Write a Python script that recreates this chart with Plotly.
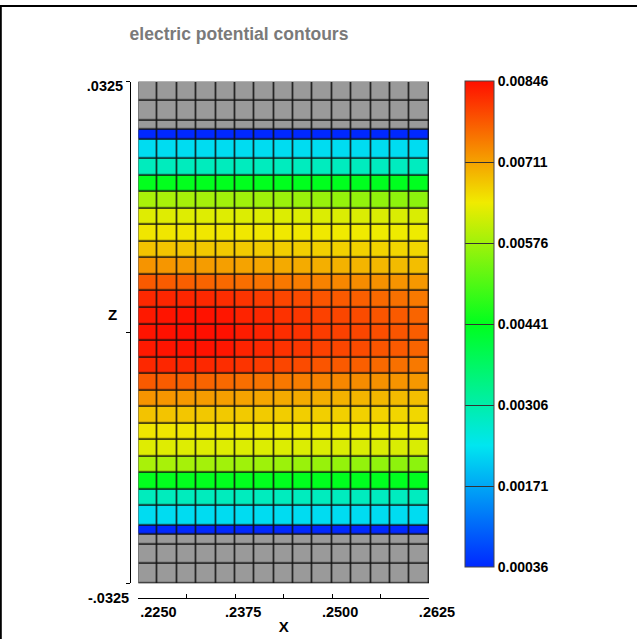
import plotly.graph_objects as go

# ---------------- data ----------------
# cell edges of the mesh (x: 15 columns, z: 31 rows)
X_EDGES = [0.2250, 0.2275, 0.2300, 0.2325, 0.2350, 0.2375, 0.2400, 0.2425,
           0.2450, 0.2475, 0.2500, 0.2525, 0.2550, 0.2575, 0.2600, 0.2625]
Z_EDGES = [-0.0325, -0.0300, -0.0275, -0.02625, -0.0250, -0.0225,
           -0.02036, -0.01821, -0.01607, -0.01393, -0.01179, -0.00964,
           -0.00750, -0.00536, -0.00321, -0.00107, 0.00107, 0.00321,
           0.00536, 0.00750, 0.00964, 0.01179, 0.01393, 0.01607, 0.01821,
           0.02036, 0.0225, 0.0250, 0.02625, 0.0275, 0.0300, 0.0325]

# potential per row (15 columns, left -> right)
ROW_BLUE = [0.00036] * 15
ROW_CYAN = [0.00228, 0.00228, 0.00228, 0.00228, 0.00228, 0.00228, 0.00228, 0.00228,
            0.00228, 0.00228, 0.00228, 0.00228, 0.00228, 0.00228, 0.00228]
ROW_M1 = [0.00288, 0.00288, 0.00288, 0.00288, 0.00288, 0.00287, 0.00287, 0.00287,
          0.00287, 0.00287, 0.00287, 0.00287, 0.00286, 0.00286, 0.00286]
ROW_M2 = [0.00443, 0.00443, 0.00443, 0.00442, 0.00442, 0.00442, 0.00442, 0.00441,
          0.00441, 0.00441, 0.00441, 0.00440, 0.00440, 0.00440, 0.00440]
ROW_M3 = [0.00584, 0.00583, 0.00581, 0.00579, 0.00577, 0.00575, 0.00574, 0.00572,
          0.00570, 0.00568, 0.00566, 0.00565, 0.00563, 0.00561, 0.00559]
ROW_M4 = [0.00629, 0.00629, 0.00628, 0.00628, 0.00628, 0.00627, 0.00627, 0.00627,
          0.00626, 0.00626, 0.00626, 0.00625, 0.00625, 0.00624, 0.00624]
ROW_M5 = [0.00648, 0.00648, 0.00647, 0.00647, 0.00647, 0.00646, 0.00646, 0.00645,
          0.00645, 0.00645, 0.00644, 0.00644, 0.00643, 0.00643, 0.00642]
ROW_M6 = [0.00680, 0.00679, 0.00678, 0.00676, 0.00675, 0.00674, 0.00673, 0.00671,
          0.00670, 0.00669, 0.00668, 0.00667, 0.00666, 0.00664, 0.00662]
ROW_M7 = [0.00724, 0.00722, 0.00719, 0.00716, 0.00713, 0.00710, 0.00707, 0.00703,
          0.00702, 0.00699, 0.00696, 0.00693, 0.00690, 0.00688, 0.00685]
ROW_M8 = [0.00777, 0.00775, 0.00772, 0.00768, 0.00763, 0.00759, 0.00754, 0.00749,
          0.00745, 0.00740, 0.00736, 0.00731, 0.00726, 0.00724, 0.00720]
ROW_M9 = [0.00823, 0.00825, 0.00825, 0.00823, 0.00818, 0.00812, 0.00805, 0.00795,
          0.00791, 0.00782, 0.00777, 0.00772, 0.00763, 0.00757, 0.00748]
ROW_M10 = [0.00837, 0.00841, 0.00843, 0.00843, 0.00840, 0.00828, 0.00823, 0.00814,
           0.00809, 0.00800, 0.00795, 0.00791, 0.00782, 0.00777, 0.00768]
ROW_M11 = [0.00841, 0.00844, 0.00846, 0.00846, 0.00844, 0.00834, 0.00828, 0.00818,
           0.00814, 0.00805, 0.00800, 0.00795, 0.00788, 0.00782, 0.00774]
ROW_GRAY = [None] * 15  # other material: no potential

# rows from bottom (z = -0.0325) to top (z = 0.0325)
ROW_ORDER = [ROW_GRAY, ROW_GRAY, ROW_GRAY, ROW_BLUE, ROW_CYAN,
             ROW_M1, ROW_M2, ROW_M3, ROW_M4, ROW_M5, ROW_M6, ROW_M7, ROW_M8,
             ROW_M9, ROW_M10, ROW_M11, ROW_M10, ROW_M9, ROW_M8, ROW_M7, ROW_M6,
             ROW_M5, ROW_M4, ROW_M3, ROW_M2, ROW_M1,
             ROW_CYAN, ROW_BLUE, ROW_GRAY, ROW_GRAY, ROW_GRAY]

V_MIN, V_MAX = 0.00036, 0.00846
CB_TICKS = [0.00036, 0.00171, 0.00306, 0.00441, 0.00576, 0.00711, 0.00846]
CB_LABELS = ["0.00036", "0.00171", "0.00306", "0.00441", "0.00576", "0.00711", "0.00846"]

X_TICKS = [0.2250, 0.2375, 0.2500, 0.2625]
X_LABELS = ["\u00a0\u00a0\u00a0\u00a0\u00a0\u00a0.2250", ".2375", ".2500", ".2625"]
X_MINOR = 0.00625
Z_TICKS = [-0.0325, 0.0, 0.0325]
Z_LABELS = ["", "", ".0325"]

TITLE = "electric potential contours"

# ---------------- figure ----------------
W, H = 637, 639
FONT = "Liberation Sans, Arial, Helvetica, sans-serif"

z_data = ROW_ORDER
z_mat = [[1 if v is None else None for v in row] for row in ROW_ORDER]

hot = [[0.0, "rgb(0,40,255)"], [0.25, "rgb(0,230,240)"], [0.5, "rgb(0,255,30)"],
       [0.75, "rgb(240,235,0)"], [1.0, "rgb(255,15,0)"]]

GAP = 1.5

fig = go.Figure()
fig.add_trace(go.Heatmap(
    x=X_EDGES, y=Z_EDGES, z=z_mat, zmin=0, zmax=1,
    colorscale=[[0, "#9a9a9a"], [1, "#9a9a9a"]], showscale=False,
    xgap=GAP, ygap=GAP, hoverinfo="skip"))
fig.add_trace(go.Heatmap(
    x=X_EDGES, y=Z_EDGES, z=z_data, zmin=V_MIN, zmax=V_MAX,
    colorscale=hot, xgap=GAP, ygap=GAP,
    colorbar=dict(
        x=465 / W, xanchor="left", xref="paper",
        y=1 - 567 / H, yanchor="bottom", yref="paper",
        len=(567 - 81) / H, lenmode="fraction", thickness=29,
        xpad=0, ypad=0, outlinewidth=1, outlinecolor="#444",
        tickvals=CB_TICKS, ticktext=CB_LABELS, ticks="inside",
        ticklen=29, tickcolor="#333", tickwidth=1,
        tickfont=dict(family=FONT, size=14, color="black", weight="bold"))))

fig.update_layout(
    width=W, height=H, margin=dict(l=0, r=0, t=0, b=0, autoexpand=False),
    paper_bgcolor="white", plot_bgcolor="#111",
    showlegend=False,
    title=dict(text=TITLE, x=239 / W, xanchor="center", y=1 - 34 / H, yanchor="middle",
               automargin=False,
               font=dict(family=FONT, size=17.5, color="#7a7a7a", weight="bold")),
    xaxis=dict(domain=[138.3 / W, 429 / W], range=[X_EDGES[0], X_EDGES[-1]],
               anchor="free", position=1 - 597.5 / H, automargin=False,
               showline=True, linecolor="black", linewidth=1,
               showgrid=False, zeroline=False,
               tickvals=X_TICKS, ticktext=X_LABELS, ticks="inside", ticklen=4,
               tickcolor="black", ticklabelshift=8, ticklabelstandoff=1,
               minor=dict(dtick=X_MINOR, tick0=X_TICKS[0], ticks="inside", ticklen=4,
                          tickcolor="black", showgrid=False),
               tickfont=dict(family=FONT, size=14.5, color="black", weight="bold"),
               title=dict(text="X", standoff=2,
                          font=dict(family=FONT, size=15, color="black", weight="bold"))),
    xaxis2=dict(overlaying="x", matches="x", anchor="free", position=1 - 597.5 / H,
                automargin=False,
                showline=False, showgrid=False, zeroline=False,
                tickvals=X_TICKS, ticks="outside", ticklen=4, tickcolor="black",
                showticklabels=False,
                minor=dict(dtick=X_MINOR, tick0=X_TICKS[0], ticks="outside", ticklen=4,
                           tickcolor="black", showgrid=False)),
    yaxis=dict(domain=[1 - 583.3 / H, 1 - 81.7 / H], range=[Z_EDGES[0], Z_EDGES[-1]],
               anchor="free", position=130 / W, automargin=False,
               showline=True, linecolor="black", linewidth=1,
               showgrid=False, zeroline=False,
               tickvals=Z_TICKS, ticktext=Z_LABELS, ticks="outside", ticklen=4,
               tickcolor="black", ticklabelshift=4, ticklabelstandoff=0,
               tickfont=dict(family=FONT, size=14.5, color="black", weight="bold")),
)

fig.add_annotation(text="-.0325", xref="paper", x=131 / W, xanchor="right",
                   yref="y", y=Z_TICKS[0], yshift=-15, yanchor="middle", showarrow=False,
                   font=dict(family=FONT, size=14.5, color="black", weight="bold"))
fig.add_annotation(text="Z", xref="paper", x=112 / W, xanchor="center",
                   yref="y", y=Z_TICKS[1], yshift=18, yanchor="middle", showarrow=False,
                   font=dict(family=FONT, size=15, color="black", weight="bold"))

# image frame
fig.add_shape(type="line", xref="paper", yref="paper", x0=0, x1=1,
              y0=1 - 6 / H, y1=1 - 6 / H, line=dict(color="black", width=2))
fig.add_shape(type="line", xref="paper", yref="paper", x0=0.8 / W, x1=0.8 / W,
              y0=0, y1=1 - 6 / H, line=dict(color="black", width=2))

fig.write_html("out.html")
